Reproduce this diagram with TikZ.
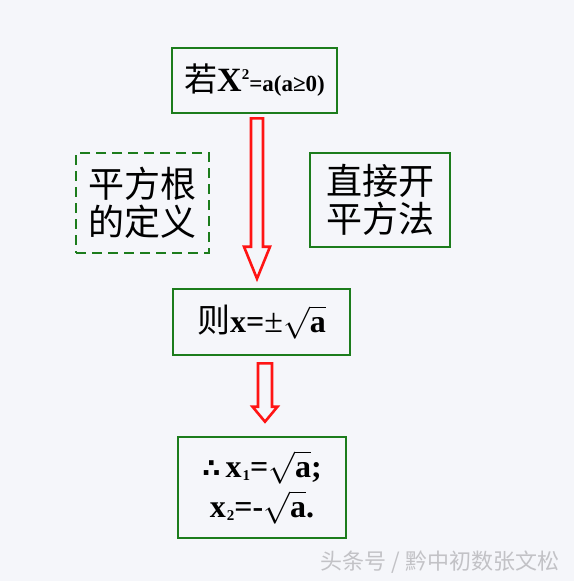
\documentclass[tikz,border=0pt]{standalone}
\usepackage{amsmath,amssymb}
\usepackage{fontspec}
\setmainfont{Liberation Serif}
\newfontfamily\cjk{Noto Sans CJK SC}
\newfontfamily\symf{DejaVu Sans}
\usetikzlibrary{calc,positioning}
\DeclareFontShape{OMS}{cmsy}{m}{n}{<->cmsy10}{}
\DeclareFontShape{OMX}{cmex}{m}{n}{<->cmex10}{}
\definecolor{bgPaper}{HTML}{F5F6FA}
\definecolor{boxGreen}{HTML}{1C7C1C}
\definecolor{arrowRed}{HTML}{FF1414}
\definecolor{markGray}{HTML}{C2C2C6}
\newcommand{\fsz}[2]{\fontsize{#1}{#2}\selectfont}
\newcommand{\rt}{$\sqrt{\vphantom{X}\hbox{\bfseries a}}$}
% hollow block arrow: from, to, shaft half width, head half width, head length
\newcommand{\blockarrow}[5]{%
  \draw[hollow] let \p1=(#1), \p2=(#2) in
    (\x1-#3pt,\y1) -- (\x1+#3pt,\y1) -- (\x1+#3pt,\y2+#5pt) -- (\x1+#4pt,\y2+#5pt)
    -- (\x1,\y2) -- (\x1-#4pt,\y2+#5pt) -- (\x1-#3pt,\y2+#5pt) -- cycle;}

\begin{document}
\begin{tikzpicture}[
    x=1pt, y=-1pt,
    box/.style={rectangle, draw=boxGreen, line width=2.6pt, align=center, inner sep=0pt},
    dashbox/.style={box, dash pattern=on 10pt off 6pt},
    hollow/.style={draw=arrowRed, line width=2.6pt, fill=bgPaper, line join=miter},
    wmark/.style={font=\cjk\fsz{22}{24}, text=markGray},
]
    \useasboundingbox (0,0) rectangle (574,581);
    \fill[bgPaper] (0,0) rectangle (574,581);

    % Top: condition
    \node[box, minimum width=165, minimum height=65] (cond) at (254.5,80.5)
        {{\cjk\fsz{33}{36}若}{\bfseries\fsz{34}{36}X}{\bfseries\fsz{15}{15}\raisebox{12pt}{2}}{\bfseries\fsz{23}{26}=a(a≥0)}};

    % Side notes
    \node[dashbox, minimum width=133, minimum height=100, font=\cjk\fsz{36}{38}] (defn) at (142.5,203)
        {平方根\\的定义};
    \node[box, minimum width=140, minimum height=94, font=\cjk\fsz{36}{38}] (method) at (380,200)
        {直接开\\平方法};

    % Middle: root
    \node[box, minimum width=177, minimum height=66] (root) at (261.5,322)
        {{\cjk\fsz{33}{36}则}{\bfseries\fsz{32}{34}x=}{\fsz{34}{34}±}{\fsz{32}{34}\rt}};

    % Bottom: solutions
    \node[box, minimum width=168, minimum height=101, font=\bfseries\fsz{32}{40}] (sols) at (262,487.5)
        {{\symf\fsz{26}{40}∴}\,x\kern1pt{\fsz{15}{15}\raisebox{-3pt}{1}}=\rt;\\
         x\kern1pt{\fsz{15}{15}\raisebox{-3pt}{2}}=-\rt.};

    % Arrows
    \blockarrow{$(cond.south)+(2.5,4)$}{$(root.north)+(-4.5,-9)$}{6}{13}{32}
    \blockarrow{$(root.south)+(3.5,7)$}{$(sols.north)+(3,-14)$}{7}{12.5}{15}

    % Watermark
    \node[wmark] (mark) at (440,562) {头条号 / 黔中初数张文松};
\end{tikzpicture}
\end{document}
